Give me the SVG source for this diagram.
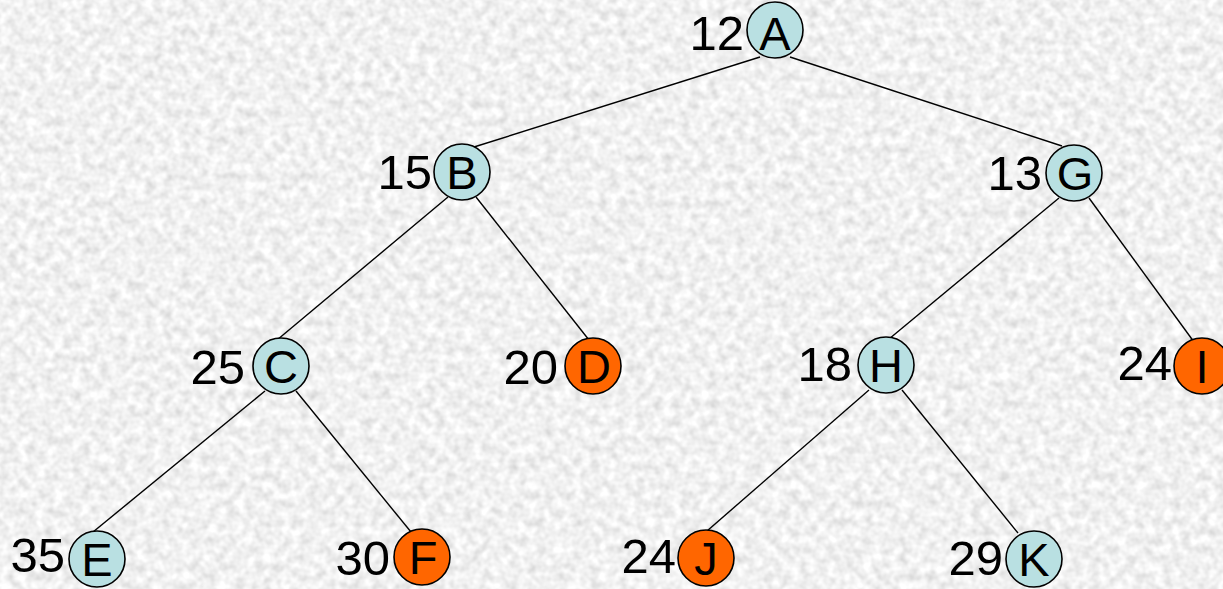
<svg xmlns="http://www.w3.org/2000/svg" width="1223" height="589" viewBox="0 0 1223 589">
  <defs>
    <!-- speckled paper-like backdrop -->
    <filter id="grain" x="0" y="0" width="100%" height="100%" filterUnits="userSpaceOnUse">
      <feTurbulence type="fractalNoise" baseFrequency="0.11" numOctaves="2" seed="7" result="n"/>
      <feColorMatrix in="n" type="matrix" values="0.5 0 0 0 0.63  0.5 0 0 0 0.63  0.5 0 0 0 0.63  0 0 0 0 1"/>
    </filter>
    <style>
      .edge { stroke: #000; stroke-width: 1.4; fill: none; }
      .node circle { stroke: #000; stroke-width: 1.6; }
      .blue circle { fill: #b9e0e2; }
      .orange circle { fill: #ff6600; }
      .node text { font-family: "Liberation Sans", Arial, sans-serif; fill: #000; }
      .key { text-anchor: middle; font-size: 47px; }
      .pri { text-anchor: end; font-size: 49px; }
    </style>
  </defs>

  <rect x="0" y="0" width="1223" height="589" filter="url(#grain)"/>

  <!-- tree edges -->
  <g id="edges">
    <line class="edge" x1="760" y1="57" x2="474" y2="147"/>
    <line class="edge" x1="790" y1="57" x2="1062" y2="146"/>
    <line class="edge" x1="448" y1="197" x2="277" y2="340"/>
    <line class="edge" x1="476" y1="197" x2="589" y2="340"/>
    <line class="edge" x1="1059" y1="198" x2="889" y2="339"/>
    <line class="edge" x1="1089" y1="198" x2="1194" y2="342"/>
    <line class="edge" x1="265" y1="391" x2="93" y2="532"/>
    <line class="edge" x1="296" y1="391" x2="411" y2="532"/>
    <line class="edge" x1="869" y1="390" x2="707" y2="531"/>
    <line class="edge" x1="902" y1="390" x2="1018" y2="533"/>
  </g>

  <g id="node-A" class="node blue">
    <circle cx="775" cy="30" r="28"/>
    <text class="key" x="775" y="50">A</text>
    <text class="pri" x="744" y="50">12</text>
  </g>
  <g id="node-B" class="node blue">
    <circle cx="462" cy="172" r="28"/>
    <text class="key" x="462" y="189">B</text>
    <text class="pri" x="432" y="189">15</text>
  </g>
  <g id="node-G" class="node blue">
    <circle cx="1074" cy="173" r="28"/>
    <text class="key" x="1075" y="190">G</text>
    <text class="pri" x="1042" y="190">13</text>
  </g>
  <g id="node-C" class="node blue">
    <circle cx="281" cy="366" r="28"/>
    <text class="key" x="281" y="383">C</text>
    <text class="pri" x="245" y="384">25</text>
  </g>
  <g id="node-D" class="node orange">
    <circle cx="593" cy="366" r="28"/>
    <text class="key" x="594" y="383">D</text>
    <text class="pri" x="558" y="384">20</text>
  </g>
  <g id="node-H" class="node blue">
    <circle cx="886" cy="365" r="28"/>
    <text class="key" x="886" y="382">H</text>
    <text class="pri" x="852" y="381">18</text>
  </g>
  <g id="node-I" class="node orange">
    <circle cx="1202" cy="366" r="28"/>
    <text class="key" x="1202" y="383">I</text>
    <text class="pri" x="1172" y="380">24</text>
  </g>
  <g id="node-E" class="node blue">
    <circle cx="97" cy="559" r="28"/>
    <text class="key" x="97" y="576">E</text>
    <text class="pri" x="65" y="572">35</text>
  </g>
  <g id="node-F" class="node orange">
    <circle cx="422" cy="557" r="28"/>
    <text class="key" x="423" y="574">F</text>
    <text class="pri" x="390" y="575">30</text>
  </g>
  <g id="node-J" class="node orange">
    <circle cx="706" cy="558" r="28"/>
    <text class="key" x="706" y="575">J</text>
    <text class="pri" x="676" y="573">24</text>
  </g>
  <g id="node-K" class="node blue">
    <circle cx="1034" cy="559" r="28"/>
    <text class="key" x="1034" y="576">K</text>
    <text class="pri" x="1003" y="575">29</text>
  </g>
</svg>
